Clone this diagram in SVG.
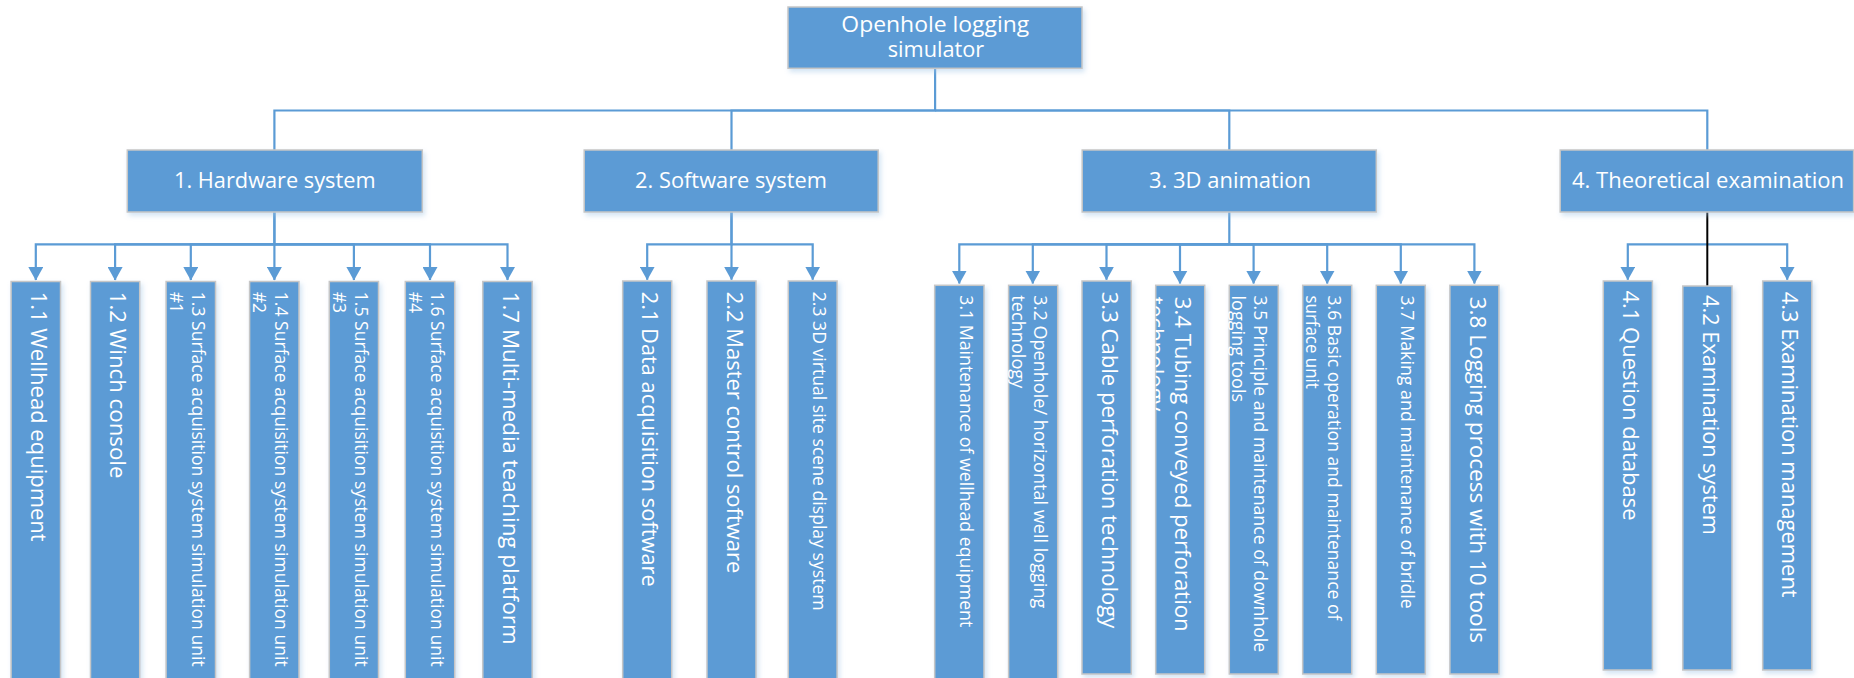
<svg xmlns="http://www.w3.org/2000/svg" width="1854" height="678" viewBox="0 0 1854 678">
<defs>
<style>
.box{fill:#5B9BD5;stroke:#C6C6C6;stroke-width:1.5;filter:url(#sh)}
.t{fill:#FFFFFF;font-family:"Open Sans","Noto Sans","DejaVu Sans",sans-serif}
.L{font-size:22.5px}
.S{font-size:18px}
.m{text-anchor:middle}
.c{fill:none;stroke:#5B9BD5;stroke-width:2.2}
.a{marker-end:url(#arr)}
.k{fill:none;stroke:#000000;stroke-width:2}
</style>
<filter id="sh" x="-10%" y="-10%" width="130%" height="130%">
<feDropShadow dx="2" dy="3" stdDeviation="2.5" flood-color="#9DC3E6" flood-opacity="0.45"/>
</filter>
<marker id="arr" markerUnits="userSpaceOnUse" viewBox="0 0 13.5 15" markerWidth="13.5" markerHeight="15" refX="13" refY="7.5" orient="auto">
<path d="M0,0 L13.5,7.5 L0,15 Z" fill="#5B9BD5"/>
</marker>
<clipPath id="clip34"><rect x="1155.7" y="285.3" width="49" height="389"/></clipPath>
</defs>

<g id="connectors">
<path class="c" d="M935.1,68.3V110.5H274.4V150"/>
<path class="c" d="M935.1,110.5H731.5V150"/>
<path class="c" d="M935.1,110.5H1229.3V150"/>
<path class="c" d="M935.1,110.5H1707.3V150"/>

<path class="c a" d="M274.4,212V244.3H35.8V280"/>
<path class="c a" d="M274.4,244.3H115.1V280"/>
<path class="c a" d="M274.4,244.3H190.8V280"/>
<path class="c a" d="M274.4,212V280"/>
<path class="c a" d="M274.4,244.3H353.9V280"/>
<path class="c a" d="M274.4,244.3H430V280"/>
<path class="c a" d="M274.4,244.3H507.5V280"/>

<path class="c a" d="M731.5,212V244.3H647.2V279.7"/>
<path class="c a" d="M731.5,212V279.7"/>
<path class="c a" d="M731.5,244.3H812.7V279.7"/>

<path class="c" d="M1229.3,212V244.3"/>
<path class="c a" d="M1229.3,244.3H959.3V283.5"/>
<path class="c a" d="M1229.3,244.3H1032.8V283.5"/>
<path class="c a" d="M1229.3,244.3H1106.5V279.7"/>
<path class="c a" d="M1229.3,244.3H1180V283.5"/>
<path class="c a" d="M1229.3,244.3H1253.6V283.5"/>
<path class="c a" d="M1229.3,244.3H1327.2V283.5"/>
<path class="c a" d="M1229.3,244.3H1400.8V283.5"/>
<path class="c a" d="M1229.3,244.3H1474.4V283.5"/>

<path class="c a" d="M1707.3,244.3H1627.8V279.7"/>
<path class="c a" d="M1707.3,244.3H1787.2V279.7"/>
<path class="k" d="M1707.3,212V286"/>
</g>

<g id="root">
<rect class="box" x="788" y="7" width="294" height="61.3"/>
<text class="t L m" x="935.3" y="32.3" textLength="188" lengthAdjust="spacingAndGlyphs">Openhole logging</text>
<text class="t L m" x="936" y="57.3" textLength="96.5" lengthAdjust="spacingAndGlyphs">simulator</text>
</g>

<g id="n1">
<rect class="box" x="127.3" y="150" width="295" height="62"/>
<text class="t L m" x="274.8" y="188.3" textLength="201.6" lengthAdjust="spacingAndGlyphs">1. Hardware system</text>
</g>
<g id="n2">
<rect class="box" x="584.2" y="150" width="294" height="62"/>
<text class="t L m" x="731" y="188.3" textLength="191.8" lengthAdjust="spacingAndGlyphs">2. Software system</text>
</g>
<g id="n3">
<rect class="box" x="1082.2" y="150" width="294.1" height="62"/>
<text class="t L m" x="1230" y="188.3" textLength="162" lengthAdjust="spacingAndGlyphs">3. 3D animation</text>
</g>
<g id="n4">
<rect class="box" x="1560.2" y="150" width="293.4" height="62"/>
<text class="t L m" x="1708" y="188.3" textLength="272" lengthAdjust="spacingAndGlyphs">4. Theoretical examination</text>
</g>

<g id="n1_1">
<rect class="box" x="11.1" y="281.5" width="49.4" height="420"/>
<text class="t L" transform="translate(31,291.7) rotate(90)" textLength="250" lengthAdjust="spacingAndGlyphs">1.1 Wellhead equipment</text>
</g>
<g id="n1_2">
<rect class="box" x="90.5" y="281.5" width="49.2" height="420"/>
<text class="t L" transform="translate(110.1,291.7) rotate(90)" textLength="186.7" lengthAdjust="spacingAndGlyphs">1.2 Winch console</text>
</g>
<g id="n1_3">
<rect class="box" x="166.1" y="281.5" width="49.4" height="420"/>
<text class="t S" transform="translate(191.5,291.7) rotate(90)" textLength="375" lengthAdjust="spacingAndGlyphs">1.3 Surface acquisition system simulation unit</text>
<text class="t S" transform="translate(169.5,291.7) rotate(90)" textLength="21.4" lengthAdjust="spacingAndGlyphs">#1</text>
</g>
<g id="n1_4">
<rect class="box" x="249.6" y="281.5" width="49.4" height="420"/>
<text class="t S" transform="translate(275,291.7) rotate(90)" textLength="375" lengthAdjust="spacingAndGlyphs">1.4 Surface acquisition system simulation unit</text>
<text class="t S" transform="translate(253,291.7) rotate(90)" textLength="21.4" lengthAdjust="spacingAndGlyphs">#2</text>
</g>
<g id="n1_5">
<rect class="box" x="329.3" y="281.5" width="49.2" height="420"/>
<text class="t S" transform="translate(354.5,291.7) rotate(90)" textLength="375" lengthAdjust="spacingAndGlyphs">1.5 Surface acquisition system simulation unit</text>
<text class="t S" transform="translate(332.5,291.7) rotate(90)" textLength="21.4" lengthAdjust="spacingAndGlyphs">#3</text>
</g>
<g id="n1_6">
<rect class="box" x="405.3" y="281.5" width="49.4" height="420"/>
<text class="t S" transform="translate(430.7,291.7) rotate(90)" textLength="375" lengthAdjust="spacingAndGlyphs">1.6 Surface acquisition system simulation unit</text>
<text class="t S" transform="translate(408.7,291.7) rotate(90)" textLength="21.4" lengthAdjust="spacingAndGlyphs">#4</text>
</g>
<g id="n1_7">
<rect class="box" x="482.8" y="281.5" width="49.4" height="420"/>
<text class="t L" transform="translate(502.7,291.7) rotate(90)" textLength="352.9" lengthAdjust="spacingAndGlyphs">1.7 Multi-media teaching platform</text>
</g>

<g id="n2_1">
<rect class="box" x="622.7" y="281" width="49" height="420"/>
<text class="t L" transform="translate(642.2,291.7) rotate(90)" textLength="295" lengthAdjust="spacingAndGlyphs">2.1 Data acquisition software</text>
</g>
<g id="n2_2">
<rect class="box" x="707" y="281" width="49" height="420"/>
<text class="t L" transform="translate(726.5,291.7) rotate(90)" textLength="281.6" lengthAdjust="spacingAndGlyphs">2.2 Master control software</text>
</g>
<g id="n2_3">
<rect class="box" x="788.3" y="281" width="48.8" height="420"/>
<text class="t S" transform="translate(813,291.7) rotate(90)" textLength="319" lengthAdjust="spacingAndGlyphs">2.3 3D virtual site scene display system</text>
</g>

<g id="n3_1">
<rect class="box" x="934.7" y="285.3" width="49.3" height="420"/>
<text class="t S" transform="translate(960,295.3) rotate(90)" textLength="332" lengthAdjust="spacingAndGlyphs">3.1 Maintenance of wellhead equipment</text>
</g>
<g id="n3_2">
<rect class="box" x="1008.6" y="285.3" width="49.1" height="420"/>
<text class="t S" transform="translate(1033.7,295.3) rotate(90)" textLength="313" lengthAdjust="spacingAndGlyphs">3.2 Openhole/ horizontal well logging</text>
<text class="t S" transform="translate(1011.7,295.3) rotate(90)" textLength="93" lengthAdjust="spacingAndGlyphs">technology</text>
</g>
<g id="n3_3">
<rect class="box" x="1082" y="281" width="49.3" height="393"/>
<text class="t L" transform="translate(1101.8,291.7) rotate(90)" textLength="336.7" lengthAdjust="spacingAndGlyphs">3.3 Cable perforation technology</text>
</g>
<g id="n3_4">
<rect class="box" x="1155.7" y="285.3" width="49" height="388.7"/>
<text class="t L" transform="translate(1175.2,296.7) rotate(90)" textLength="335" lengthAdjust="spacingAndGlyphs">3.4 Tubing conveyed perforation</text>
<g clip-path="url(#clip34)">
<text class="t L" transform="translate(1147.6,296.7) rotate(90)" textLength="114.4" lengthAdjust="spacingAndGlyphs">technology</text>
</g>
</g>
<g id="n3_5">
<rect class="box" x="1229.3" y="285.3" width="49" height="388.7"/>
<text class="t S" transform="translate(1254.3,295.5) rotate(90)" textLength="356.7" lengthAdjust="spacingAndGlyphs">3.5 Principle and maintenance of downhole</text>
<text class="t S" transform="translate(1232.3,295.5) rotate(90)" textLength="106.6" lengthAdjust="spacingAndGlyphs">logging tools</text>
</g>
<g id="n3_6">
<rect class="box" x="1302.7" y="285.3" width="49" height="388.7"/>
<text class="t S" transform="translate(1327.7,295.5) rotate(90)" textLength="325" lengthAdjust="spacingAndGlyphs">3.6 Basic operation and maintenance of</text>
<text class="t S" transform="translate(1305.7,295.5) rotate(90)" textLength="93.3" lengthAdjust="spacingAndGlyphs">surface unit</text>
</g>
<g id="n3_7">
<rect class="box" x="1376.3" y="285.3" width="49" height="388.7"/>
<text class="t S" transform="translate(1401.3,295.5) rotate(90)" textLength="313.3" lengthAdjust="spacingAndGlyphs">3.7 Making and maintenance of bridle</text>
</g>
<g id="n3_8">
<rect class="box" x="1449.9" y="285.3" width="49" height="388.7"/>
<text class="t L" transform="translate(1469.5,296.7) rotate(90)" textLength="346.4" lengthAdjust="spacingAndGlyphs">3.8 Logging process with 10 tools</text>
</g>

<g id="n4_1">
<rect class="box" x="1603.3" y="281" width="49.1" height="389"/>
<text class="t L" transform="translate(1622.9,290.5) rotate(90)" textLength="230" lengthAdjust="spacingAndGlyphs">4.1 Question database</text>
</g>
<g id="n4_2">
<rect class="box" x="1682.8" y="286" width="49.2" height="384"/>
<text class="t L" transform="translate(1702.5,295) rotate(90)" textLength="240" lengthAdjust="spacingAndGlyphs">4.2 Examination system</text>
</g>
<g id="n4_3">
<rect class="box" x="1762.7" y="281" width="49.1" height="389"/>
<text class="t L" transform="translate(1782.3,291.7) rotate(90)" textLength="306" lengthAdjust="spacingAndGlyphs">4.3 Examination management</text>
</g>
</svg>
